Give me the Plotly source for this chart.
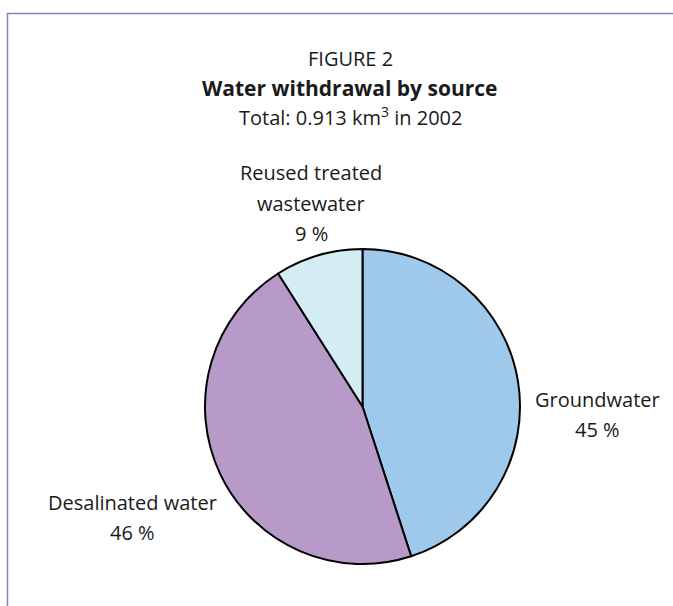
import plotly.graph_objects as go

categories = ["Groundwater", "Desalinated water", "Reused treated wastewater"]
values = [45, 46, 9]
colors = ["#9FC9EB", "#B89AC9", "#D4ECF3"]
label_lines = [["Groundwater", "45 %"], ["Desalinated water", "46 %"],
               ["Reused treated", "wastewater", "9 %"]]

W, H = 673, 606
FONT = "Open Sans, Noto Sans, sans-serif"
TXT = "#1a1a1a"

fig = go.Figure(go.Pie(
    labels=categories,
    values=values,
    sort=False,
    direction="clockwise",
    rotation=0,
    marker=dict(colors=colors, line=dict(color="black", width=2)),
    textinfo="none",
    hoverinfo="label+percent",
    showlegend=False,
    domain=dict(x=[205 / W, 520 / W], y=[1 - 564 / H, 1 - 249 / H]),
))

def px_ann(x, y, text, size, bold=False):
    return dict(
        x=x / W, y=1 - y / H, xref="paper", yref="paper",
        text=f"<b>{text}</b>" if bold else text, showarrow=False,
        xanchor="center", yanchor="middle",
        font=dict(family=FONT, size=size, color=TXT),
    )

# label anchors: (centre x, first-line centre y)
label_pos = [(597, 399), (132, 502), (311, 173)]
LINE = 30
annotations = []
for lines, (cx, cy) in zip(label_lines, label_pos):
    for i, ln in enumerate(lines):
        annotations.append(px_ann(cx, cy + i * LINE, ln, 20))

annotations += [
    px_ann(350, 58, "FIGURE 2", 20),
    px_ann(350, 88, "Water withdrawal by source", 21, bold=True),
    px_ann(350, 117, "Total: 0.913 km<sup>3</sup> in 2002", 20),
]

fig.update_layout(
    width=W, height=H,
    margin=dict(l=0, r=0, t=0, b=0),
    paper_bgcolor="white",
    plot_bgcolor="white",
    annotations=annotations,
    shapes=[dict(type="rect", xref="paper", yref="paper",
                 x0=7.5 / W, x1=1.05, y0=-0.05, y1=1 - 13.5 / H,
                 line=dict(color="#7A88BE", width=1.5))],
)

fig.write_html("out.html")
